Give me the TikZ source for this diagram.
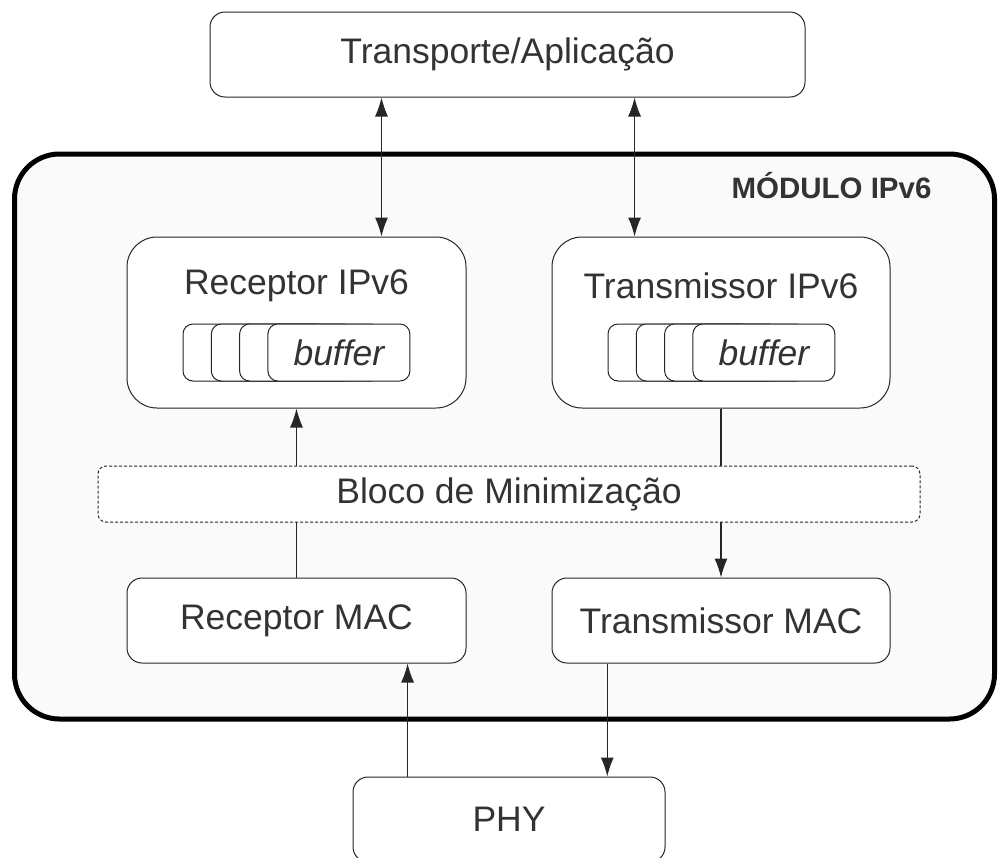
\documentclass[tikz,border=0pt]{standalone}
\usepackage{fontspec}
\setmainfont{Liberation Sans}
\usetikzlibrary{positioning,calc,arrows.meta}
\definecolor{TextGray}{RGB}{51,51,51}
\definecolor{ModuleFill}{RGB}{250,250,250}
\tikzset{
  bigfont/.style={font=\fontsize{35.5}{40}\selectfont},
  blockbox/.style={draw=black!85,fill=white,line width=1pt,rounded corners=15pt,
    text=TextGray,bigfont,inner sep=0pt},
  ipbox/.style={blockbox,rounded corners=30pt},
  bufbox/.style={draw=black!85,fill=white,line width=1pt,rounded corners=10pt,
    minimum width=142pt,minimum height=57pt,inner sep=0pt},
  buftext/.style={text=TextGray,font=\fontsize{35.5}{40}\selectfont\itshape},
  minbox/.style={blockbox,dash pattern=on 3pt off 2pt,rounded corners=8pt,line width=1pt},
  flow/.style={black!85,line width=1.2pt,-{Latex[length=19pt,width=13pt]}},
  flowboth/.style={flow,{Latex[length=19pt,width=13pt]}-{Latex[length=19pt,width=13pt]}}
}

\begin{document}
\begin{tikzpicture}[x=1pt,y=-1pt]
    \useasboundingbox (0,0) rectangle (998,857);
    \clip (0,0) rectangle (998,857);
    % outer module
    \node[draw=black,fill=ModuleFill,line width=5pt,rounded corners=45pt,
      minimum width=980pt,minimum height=565pt] (module) at (504.5,436.5) {};
    \node[anchor=east,text=TextGray,font=\fontsize{29.5}{34}\selectfont\bfseries]
      (modlabel) at (935,186) {MÓDULO IPv6};
    % layers
    \node[blockbox,minimum width=595pt,minimum height=85pt] (app) at (507.5,54.5) {Transporte/Aplicação};
    \node[ipbox,minimum width=339pt,minimum height=171pt] (rxip) at (296.5,322.5) {};
    \node[ipbox,minimum width=338pt,minimum height=171pt] (txip) at (721,322.5) {};
    \node[text=TextGray,bigfont] (rxtitle) at (296.5,286) {Receptor IPv6};
    \node[text=TextGray,bigfont] (txtitle) at (721,286) {Transmissor IPv6};
    \foreach \k in {0,...,3} {
      \node[bufbox] (rxbuf\k) at (254+28.3*\k,352.5) {};
      \node[bufbox] (txbuf\k) at (679+28.3*\k,352.5) {};
    }
    \node[buftext] (rxbuftext) at (rxbuf3) {buffer};
    \node[buftext] (txbuftext) at (txbuf3) {buffer};
    \node[blockbox,minimum width=339pt,minimum height=85pt] (rxmac) at (296.5,620.5) {Receptor MAC};
    \node[blockbox,minimum width=338pt,minimum height=85pt] (txmac) at (721,620.5) {Transmissor MAC};
    \node[blockbox,minimum width=312pt,minimum height=85pt] (phy) at (509,819.5) {PHY};
    % connectors
    \path (rxip.north west) -- (rxip.north east) coordinate[pos=.75] (rxin);
    \path (txip.north west) -- (txip.north east) coordinate[pos=.245] (txin);
    \draw[flowboth] (app.south -| rxin) -- (rxin);
    \draw[flowboth] (app.south -| txin) -- (txin);
    \draw[flow] (rxmac.north) -- (rxip.south);
    \draw[flow] (txip.south) -- (txmac.north);
    \path (phy.north west) -- (phy.north east) coordinate[pos=.176] (phyin)
      coordinate[pos=.814] (phyout);
    \draw[flow] (phyin) -- (rxmac.south -| phyin);
    \draw[flow] (txmac.south -| phyout) -- (phyout);
    \node[minbox,minimum width=822pt,minimum height=56pt] (bloco) at (509,494) {Bloco de Minimização};
\end{tikzpicture}
\end{document}
